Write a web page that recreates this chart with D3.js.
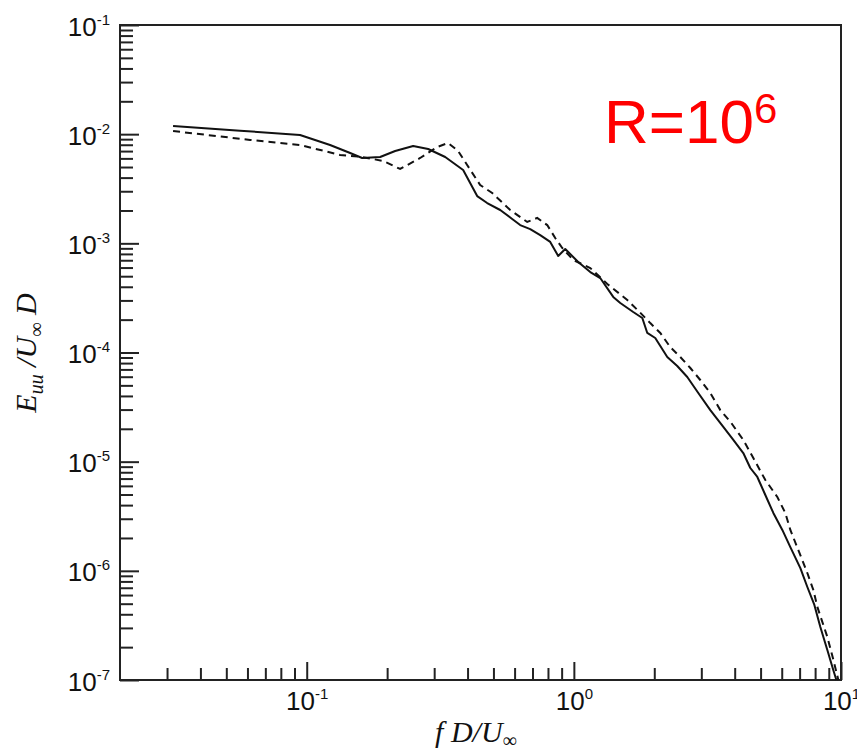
<!DOCTYPE html>
<html>
<head>
<meta charset="utf-8">
<script src="https://cdn.jsdelivr.net/npm/d3@7"></script>
<style>
  body { margin: 0; background: #fff; }
  svg { display: block; }
</style>
</head>
<body>
<svg id="drawing_region"></svg>
<script>
// spectra (solid and dashed runs)
const solid_f = [0.0316, 0.0563, 0.0944, 0.1223, 0.1454, 0.1612, 0.1883, 0.2143, 0.2503, 0.2849,
    0.3299, 0.3851, 0.4346, 0.4737, 0.530, 0.5877, 0.6296, 0.6864, 0.7482, 0.8157,
    0.8738, 0.9284, 1.038, 1.152, 1.255, 1.404, 1.492, 1.668, 1.804, 1.883,
    2.017, 2.237, 2.438, 2.658, 2.923, 3.242, 3.626, 3.953, 4.308, 4.577,
    4.862, 5.209, 5.581, 6.031, 6.462, 7.045, 7.482, 7.949, 8.369, 8.889,
    9.363, 9.607];
const solid_E = [0.01188, 0.01076, 0.00983, 0.00796, 0.00672, 0.00605, 0.00618, 0.00701, 0.00779, 0.00731,
    0.00618, 0.00470, 0.00271, 0.00234, 0.00202, 0.00167, 0.00147, 0.00135, 0.00119, 0.00103,
    7.66e-4, 8.87e-4, 6.75e-4, 5.46e-4, 4.81e-4, 3.23e-4, 2.84e-4, 2.35e-4, 2.07e-4, 1.51e-4,
    1.358e-4, 9.10e-5, 7.52e-5, 5.97e-5, 4.26e-5, 2.97e-5, 2.08e-5, 1.58e-5, 1.20e-5, 8.75e-6,
    7.24e-6, 4.95e-6, 3.39e-6, 2.37e-6, 1.65e-6, 1.06e-6, 7.11e-7, 4.87e-7, 3.06e-7, 1.88e-7,
    1.23e-7, 1.0e-7];

const dashed_f = [0.0316, 0.0614, 0.0944, 0.1334, 0.1612, 0.1932, 0.2237, 0.2658, 0.3078, 0.3384,
    0.3688, 0.3986, 0.4460, 0.4947, 0.5777, 0.6688, 0.7291, 0.7948, 0.8516, 0.9045,
    0.9945, 1.152, 1.334, 1.585, 1.762, 1.932, 2.106, 2.296, 2.502, 2.729,
    2.973, 3.242, 3.533, 3.885, 4.308, 4.697, 5.209, 5.777, 6.188, 6.462,
    6.924, 7.482, 7.880, 8.156, 8.590, 8.889, 9.363, 9.775];
const dashed_E = [0.01069, 0.00885, 0.00796, 0.00645, 0.00618, 0.00568, 0.00480, 0.00605, 0.00763, 0.00830,
    0.00701, 0.00522, 0.00342, 0.00289, 0.00202, 0.00157, 0.00171, 0.00147, 0.00112, 9.07e-4,
    7.04e-4, 5.94e-4, 4.24e-4, 3.03e-4, 2.35e-4, 1.86e-4, 1.51e-4, 1.12e-4, 9.10e-5, 7.21e-5,
    5.60e-5, 4.26e-5, 2.97e-5, 2.26e-5, 1.58e-5, 1.08e-5, 6.79e-6, 4.75e-6, 3.39e-6, 2.37e-6,
    1.55e-6, 9.55e-7, 6.68e-7, 4.67e-7, 3.19e-7, 2.48e-7, 1.53e-7, 1.0e-7];

const x_major = [0.1, 1, 10];
const x_major_exp = ["-1", "0", "1"];
const y_major = [1e-1, 1e-2, 1e-3, 1e-4, 1e-5, 1e-6, 1e-7];
const y_major_exp = ["-1", "-2", "-3", "-4", "-5", "-6", "-7"];

const config = {
    width: 857,
    height: 754,
    margin: {top: 25, right: 16, bottom: 74, left: 120}
};

const svg = d3.select('#drawing_region')
    .attr('width', config.width)
    .attr('height', config.height);

const inner_width = config.width - config.margin.left - config.margin.right;
const inner_height = config.height - config.margin.top - config.margin.bottom;

const chart = svg.append('g')
    .attr('transform', `translate(${config.margin.left}, ${config.margin.top})`);

const xscale = d3.scaleLog()
    .domain([0.02, 10])
    .range([0, inner_width]);

const yscale = d3.scaleLog()
    .domain([1e-7, 1e-1])
    .range([inner_height, 0]);

const axis_color = '#222';
const sans = '"Liberation Sans", Arial, Helvetica, sans-serif';
const serif = '"Liberation Serif", "Times New Roman", serif';

// minor ticks (inward)
const x_minor = xscale.ticks().filter(v => !x_major.some(m => Math.abs(m - v) < 1e-9) && v > 0.02);
const y_minor = yscale.ticks().filter(v => !y_major.some(m => Math.abs(m - v) / m < 1e-6));

const style_axis = g => {
    g.select('.domain').remove();
    g.selectAll('line').attr('stroke', axis_color).attr('stroke-width', 2);
};

chart.append('g')
    .attr('transform', `translate(0, ${inner_height})`)
    .call(d3.axisBottom(xscale).tickValues(x_minor).tickSize(-12).tickFormat(''))
    .call(style_axis);

chart.append('g')
    .call(d3.axisLeft(yscale).tickValues(y_minor).tickSize(-13).tickFormat(''))
    .call(style_axis);

// major ticks + labels with superscripts
const xaxis_group = chart.append('g')
    .attr('transform', `translate(0, ${inner_height})`)
    .call(d3.axisBottom(xscale).tickValues(x_major).tickSize(-18).tickFormat(''))
    .call(style_axis);

xaxis_group.selectAll('.tick').each(function(d, i) {
    const t = d3.select(this).append('text')
        .attr('x', 0)
        .attr('y', 30)
        .attr('fill', '#111')
        .attr('text-anchor', 'middle')
        .style('font-family', sans)
        .style('font-size', '26px');
    t.append('tspan').text('10');
    t.append('tspan').attr('dy', -11).style('font-size', '15px').text(x_major_exp[i]);
});

const yaxis_group = chart.append('g')
    .call(d3.axisLeft(yscale).tickValues(y_major).tickSize(-19).tickFormat(''))
    .call(style_axis);

yaxis_group.selectAll('.tick').each(function(d, i) {
    const t = d3.select(this).append('text')
        .attr('x', -10)
        .attr('y', 10)
        .attr('fill', '#111')
        .attr('text-anchor', 'end')
        .style('font-family', sans)
        .style('font-size', '26px');
    t.append('tspan').text('10');
    t.append('tspan').attr('dy', -11).style('font-size', '15px').text(y_major_exp[i]);
});

// frame
chart.append('rect')
    .attr('x', 0)
    .attr('y', 0)
    .attr('width', inner_width)
    .attr('height', inner_height)
    .attr('fill', 'none')
    .attr('stroke', axis_color)
    .attr('stroke-width', 2);

// curves
const line = d3.line()
    .x(d => xscale(d[0]))
    .y(d => yscale(d[1]));

chart.append('path')
    .attr('d', line(d3.zip(solid_f, solid_E)))
    .attr('fill', 'none')
    .attr('stroke', '#111')
    .attr('stroke-width', 2)
    .attr('stroke-linejoin', 'round');

chart.append('path')
    .attr('d', line(d3.zip(dashed_f, dashed_E)))
    .attr('fill', 'none')
    .attr('stroke', '#111')
    .attr('stroke-width', 2)
    .attr('stroke-dasharray', '7,5');

// axis titles
const xlabel = svg.append('text')
    .attr('x', 476)
    .attr('y', 742)
    .attr('text-anchor', 'middle')
    .attr('fill', '#111')
    .style('font-family', serif)
    .style('font-style', 'italic')
    .style('font-size', '30px');
xlabel.append('tspan').text('f D/U');
xlabel.append('tspan').attr('dy', 5).style('font-size', '20px').style('font-style', 'normal').text('∞');

const ylabel = svg.append('text')
    .attr('transform', 'translate(36, 353) rotate(-90)')
    .attr('text-anchor', 'middle')
    .attr('fill', '#111')
    .style('font-family', serif)
    .style('font-style', 'italic')
    .style('font-size', '30px');
ylabel.append('tspan').text('E');
ylabel.append('tspan').attr('dy', 7).style('font-size', '20px').text('uu');
ylabel.append('tspan').attr('dy', -7).text(' /U');
ylabel.append('tspan').attr('dy', 7).style('font-size', '20px').style('font-style', 'normal').text('∞');
ylabel.append('tspan').attr('dy', -7).text(' D');

// annotation
const note = svg.append('text')
    .attr('x', 604)
    .attr('y', 143)
    .attr('fill', '#ff0000')
    .style('font-family', sans)
    .style('font-size', '62px');
note.append('tspan').text('R=10');
note.append('tspan').attr('dy', -20).style('font-size', '42px').text('6');
</script>
</body>
</html>
